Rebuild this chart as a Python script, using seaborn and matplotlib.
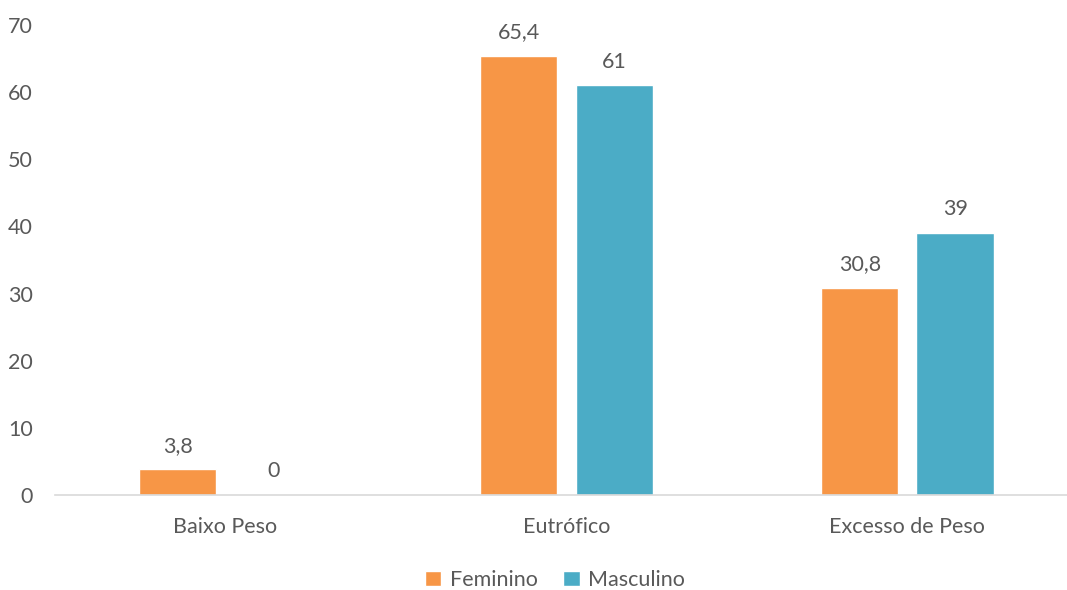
import matplotlib
matplotlib.use("Agg")
import matplotlib.pyplot as plt
import seaborn as sns
import pandas as pd

categories = ["Baixo Peso", "Eutrófico", "Excesso de Peso"]
feminino = [3.8, 65.4, 30.8]
masculino = [0, 61, 39]
series_names = ["Feminino", "Masculino"]
value_labels_fem = ["3,8", "65,4", "30,8"]
value_labels_masc = ["0", "61", "39"]

df = pd.DataFrame({
    "cat": categories * 2,
    "val": feminino + masculino,
    "sex": [series_names[0]] * 3 + [series_names[1]] * 3,
})

sns.set_theme(style="white")
plt.rcParams["font.family"] = ["Lato", "DejaVu Sans"]
txt = "#595959"
fs = 15.5

fig = plt.figure(figsize=(10.67, 5.9), dpi=100)
ax = fig.add_axes([55 / 1067, 95 / 590, 1 - 55 / 1067, 470 / 590])

sns.barplot(data=df, x="cat", y="val", hue="sex", order=categories,
            hue_order=series_names, palette=["#F79646", "#4BACC6"],
            width=0.56, gap=0.19, ax=ax, legend=True, saturation=1)

ax.set_xlim(-0.5, 2.468)
ax.set_ylim(0, 70)
ax.set_yticks(range(0, 71, 10))
ax.set_xlabel("")
ax.set_ylabel("")
for s in ["top", "right", "left"]:
    ax.spines[s].set_visible(False)
ax.spines["bottom"].set_color("#D9D9D9")
ax.spines["bottom"].set_linewidth(1.2)
ax.tick_params(axis="both", length=0, colors=txt, labelsize=fs)
ax.tick_params(axis="x", pad=16)
ax.tick_params(axis="y", pad=16)

for cont, labs in zip(ax.containers, [value_labels_fem, value_labels_masc]):
    ax.bar_label(cont, labels=labs, padding=10, color=txt, fontsize=fs)

leg = ax.legend(loc="center", bbox_to_anchor=(555 / 1067, 1 - 580 / 590),
                bbox_transform=fig.transFigure, ncol=2,
                frameon=False, fontsize=fs, handlelength=0.75, handleheight=0.75,
                handletextpad=0.4, columnspacing=1.2, borderpad=0)
for t in leg.get_texts():
    t.set_color(txt)

fig.savefig("out.png", dpi=100)
